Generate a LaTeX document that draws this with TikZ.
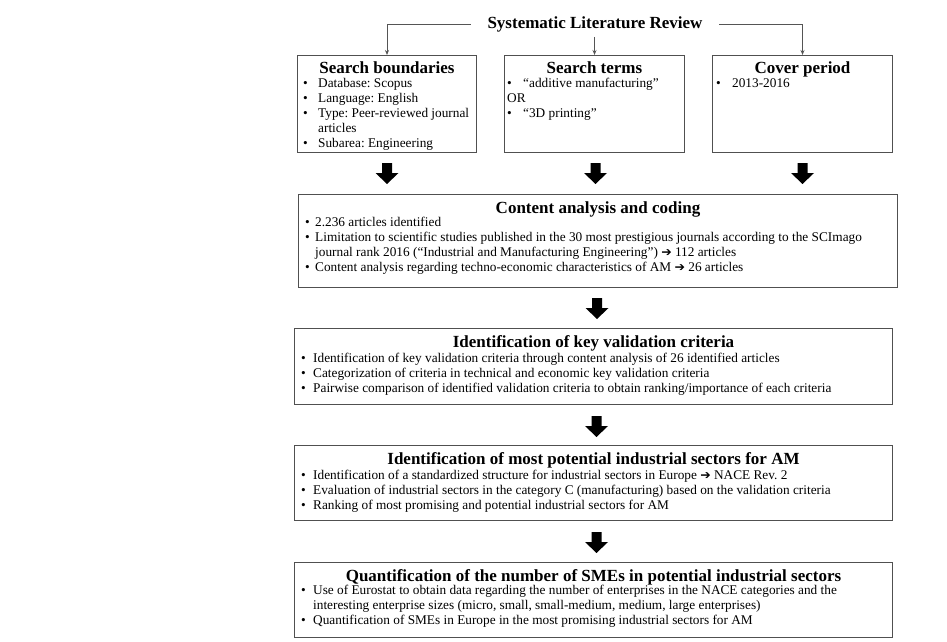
\documentclass[tikz,border=0pt]{standalone}
\usepackage{fontspec}
\setmainfont{Liberation Serif}
\newfontfamily\djv{DejaVu Sans}
\usetikzlibrary{calc,arrows.meta}
\definecolor{boxgray}{HTML}{505050}
\definecolor{linegray}{HTML}{555555}
\newcommand\rarr{{\djv\fontsize{12.5}{12}\selectfont ➔}}
\newcommand\itm[2][10pt]{\makebox[#1][l]{\textbullet}#2}
\newcommand\cnt[2][10pt]{\hspace*{#1}#2}
\newcommand\blockarrow[1]{\fill[black] #1 ++(-5,0) -- ++(10,0) -- ++(0,10) -- ++(6.5,0) -- ++(-11.5,11) -- ++(-11.5,-11) -- ++(6.5,0) -- cycle;}
\tikzset{
  box/.style={draw=boxgray, line width=1pt, inner sep=0pt, anchor=north west},
  head/.style={font=\fontsize{17}{20}\selectfont\bfseries, inner sep=0pt, anchor=base},
  body/.style={font=\fontsize{13.3}{15}\selectfont\frenchspacing, inner sep=0pt, anchor=base west},
  thinarr/.style={draw=linegray, line width=0.8pt, -{Stealth[length=5pt,width=4pt]}},
}
\begin{document}
\begin{tikzpicture}[x=1pt,y=-1pt]
\useasboundingbox (0,0) rectangle (947,642);
% title
\node[font=\fontsize{17}{20}\selectfont\bfseries, inner xsep=16.5pt, inner ysep=5pt] (slr) at (595,24) {Systematic Literature Review};
% top boxes
\node[box, minimum width=179pt, minimum height=97pt] (sb) at (297,55) {};
\node[box, minimum width=180pt, minimum height=97pt] (st) at (504,55) {};
\node[box, minimum width=180pt, minimum height=97pt] (cp) at (712,55) {};
\draw[thinarr] (slr.west) -| (sb.north);
\draw[thinarr] (slr.south -| st.north) -- (st.north);
\draw[thinarr] (slr.east) -| (cp.north);
\node[head] (sbh) at ($(sb.north)+(0,18.5)$) {Search boundaries};
\node[body] (sbt) at ($(sb.north west)+(6,32.5)$) {\begin{tabular}[t]{@{}l@{}}
\itm[15pt]{Database: Scopus}\\
\itm[15pt]{Language: English}\\
\itm[15pt]{Type: Peer-reviewed journal}\\
\cnt[15pt]{articles}\\
\itm[15pt]{Subarea: Engineering}
\end{tabular}};
\node[head] (sth) at ($(st.north)+(0,18.5)$) {Search terms};
\node[body] (stt) at ($(st.north west)+(3,32.5)$) {\begin{tabular}[t]{@{}l@{}}
\itm[16pt]{“additive manufacturing”}\\
OR\\
\itm[16pt]{“3D printing”}
\end{tabular}};
\node[head] (cph) at ($(cp.north)+(0,18.5)$) {Cover period};
\node[body] (cpt) at ($(cp.north west)+(4,32.5)$) {\begin{tabular}[t]{@{}l@{}}
\itm[16pt]{2013-2016}
\end{tabular}};
% content analysis
\node[box, minimum width=599pt, minimum height=93pt] (ca) at (298,194) {};
\blockarrow{($(sb.south)+(0,10)$)}
\blockarrow{($(st.south)+(1,10)$)}
\blockarrow{($(cp.south)+(0,10)$)}
\node[head] (cah) at ($(ca.north)+(0,19)$) {Content analysis and coding};
\node[body] (cat) at ($(ca.north west)+(7,32)$) {\begin{tabular}[t]{@{}l@{}}
\itm{2.236 articles identified}\\
\itm{Limitation to scientific studies published in the 30 most prestigious journals according to the SCImago}\\
\cnt{journal rank 2016 (“Industrial and Manufacturing Engineering”) \rarr{} 112 articles}\\
\itm{Content analysis regarding techno-economic characteristics of AM \rarr{} 26 articles}
\end{tabular}};
% key validation
\node[box, minimum width=598pt, minimum height=76pt] (kv) at (294,328) {};
\blockarrow{($(ca.south)+(-1,10)$)}
\node[head] (kvh) at ($(kv.north)+(0,19)$) {Identification of key validation criteria};
\node[body] (kvt) at ($(kv.north west)+(7,34)$) {\begin{tabular}[t]{@{}l@{}}
\itm[12pt]{Identification of key validation criteria through content analysis of 26 identified articles}\\
\itm[12pt]{Categorization of criteria in technical and economic key validation criteria}\\
\itm[12pt]{Pairwise comparison of identified validation criteria to obtain ranking/importance of each criteria}
\end{tabular}};
% most potential
\node[box, minimum width=598pt, minimum height=75pt] (mp) at (294,445) {};
\blockarrow{($(kv.south)+(3,11)$)}
\node[head] (mph) at ($(mp.north)+(0,19)$) {Identification of most potential industrial sectors for AM};
\node[body] (mpt) at ($(mp.north west)+(7,34)$) {\begin{tabular}[t]{@{}l@{}}
\itm[12pt]{Identification of a standardized structure for industrial sectors in Europe \rarr{} NACE Rev. 2}\\
\itm[12pt]{Evaluation of industrial sectors in the category C (manufacturing) based on the validation criteria}\\
\itm[12pt]{Ranking of most promising and potential industrial sectors for AM}
\end{tabular}};
% quantification
\node[box, minimum width=598pt, minimum height=75pt] (qs) at (294,562) {};
\blockarrow{($(mp.south)+(3,11)$)}
\node[head] (qsh) at ($(qs.north)+(0,19)$) {Quantification of the number of SMEs in potential industrial sectors};
\node[body] (qst) at ($(qs.north west)+(7,32.5)$) {\begin{tabular}[t]{@{}l@{}}
\itm[12pt]{Use of Eurostat to obtain data regarding the number of enterprises in the NACE categories and the}\\
\cnt[12pt]{interesting enterprise sizes (micro, small, small-medium, medium, large enterprises)}\\
\itm[12pt]{Quantification of SMEs in Europe in the most promising industrial sectors for AM}
\end{tabular}};
\end{tikzpicture}
\end{document}
